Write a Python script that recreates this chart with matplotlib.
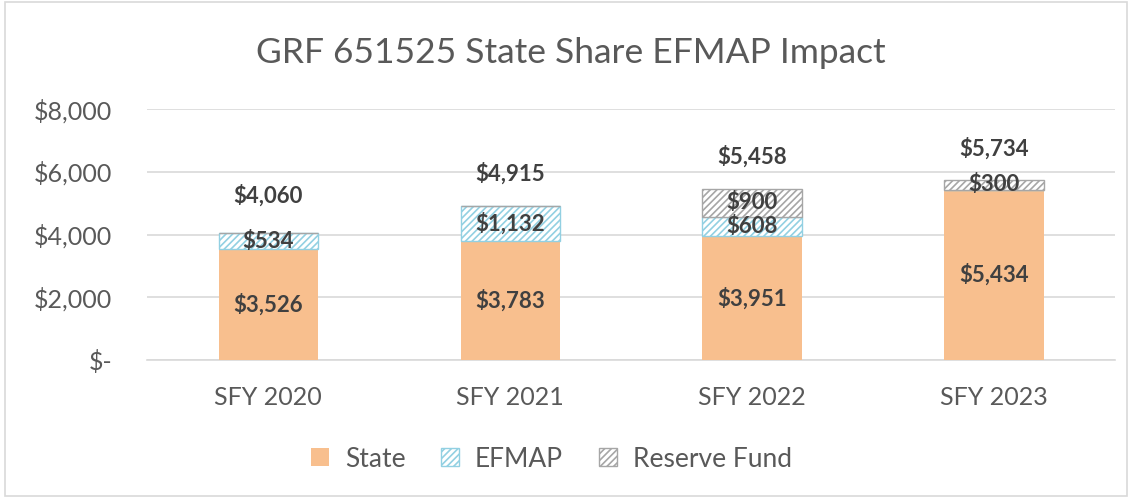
import numpy as np
import matplotlib.pyplot as plt
from matplotlib.ticker import FuncFormatter
from matplotlib.patches import Rectangle

# 資料
years = ['SFY 2020', 'SFY 2021', 'SFY 2022', 'SFY 2023']
state = [3526, 3783, 3951, 5434]
efmap = [534, 1132, 608, 0]
reserve = [0, 0, 900, 300]
totals = [4060, 4915, 5458, 5734]

plt.rcParams['font.family'] = ['Lato', 'DejaVu Sans']
plt.rcParams['hatch.linewidth'] = 1.2

def money(v, pos=None):
    if v == 0:
        return '$-'
    return '${:,.0f}'.format(v)

fig = plt.figure(figsize=(11.32, 4.98), dpi=100)
ax = fig.add_axes([0.130, 0.277, 0.855, 0.504])

x = np.arange(len(years))
w = 0.41
state = np.array(state)
efmap = np.array(efmap)
reserve = np.array(reserve)

ax.bar(x, state, w, color='#F8BF8E', label='State', zorder=3)
ax.bar(x, efmap, w, bottom=state, facecolor='white', edgecolor='#92D0E2',
       hatch='/////', linewidth=1, label='EFMAP', zorder=3)
ax.bar(x, reserve, w, bottom=state + efmap, facecolor='white', edgecolor='#A6A6A6',
       hatch='/////', linewidth=1, label='Reserve Fund', zorder=3)

lab = dict(ha='center', va='center', fontsize=16, fontweight='bold', color='#404040', zorder=5)
for i in range(len(years)):
    ax.text(x[i], state[i] / 2, money(state[i]), **lab)
    if efmap[i] > 0:
        ax.text(x[i], state[i] + efmap[i] / 2, money(efmap[i]), **lab)
    if reserve[i] > 0:
        ax.text(x[i], state[i] + efmap[i] + reserve[i] / 2, money(reserve[i]), **lab)
    ax.annotate(money(totals[i]), (x[i], totals[i]), xytext=(0, 23 if i else 27),
                textcoords='offset points', **lab)

ax.set_ylim(0, 8000)
ax.set_xlim(-0.5, 3.5)
ax.set_yticks([0, 2000, 4000, 6000, 8000])
ax.yaxis.set_major_formatter(FuncFormatter(money))
ax.set_xticks(x)
ax.set_xticklabels(years)
ax.tick_params(length=0, labelsize=18, labelcolor='#595959')
ax.tick_params(axis='y', pad=25)
ax.tick_params(axis='x', pad=19)
ax.grid(axis='y', color='#D9D9D9', linewidth=1.2, zorder=0)
for s in ['top', 'right', 'left']:
    ax.spines[s].set_visible(False)
ax.spines['bottom'].set_color('#D9D9D9')
ax.spines['bottom'].set_linewidth(1.2)

# 標題 (圖表中間偏左)
fig.text(0.5045, 1 - 63 / 498, 'GRF 651525 State Share EFMAP Impact', fontsize=25.5,
         color='#595959', ha='center', va='baseline')

leg = fig.legend(loc='center', bbox_to_anchor=(0.487, 1 - 459 / 498), ncol=3, frameon=False,
                 fontsize=19, handlelength=0.68, handleheight=0.68, columnspacing=1.36,
                 handletextpad=0.6)
for t in leg.get_texts():
    t.set_color('#595959')

# 外框
fig.patches.append(Rectangle((0.004, 0.004), 0.992, 0.992, transform=fig.transFigure,
                             fill=False, edgecolor='#D9D9D9', linewidth=1.2))

fig.savefig('out.png', dpi=100)
